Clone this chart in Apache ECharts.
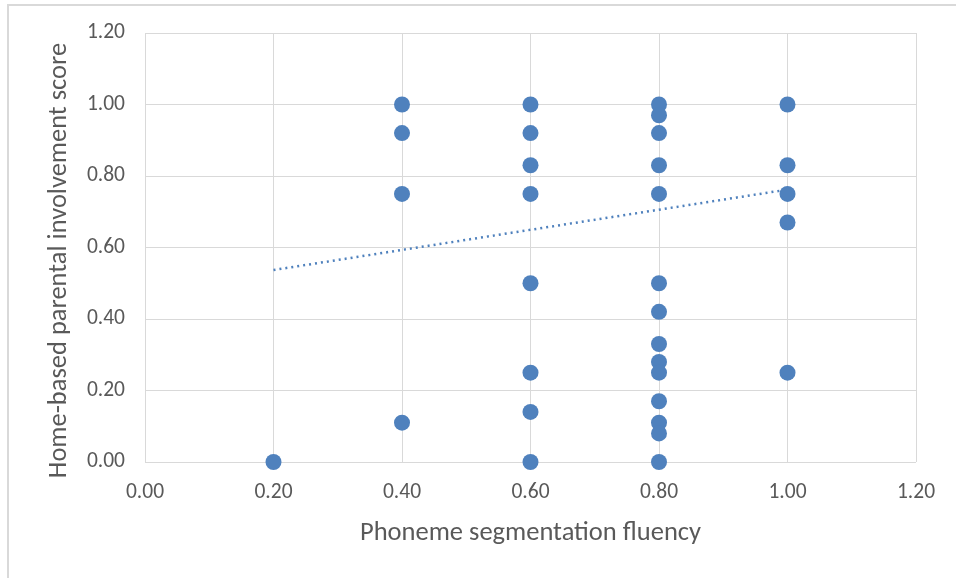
<!DOCTYPE html>
<html><head><meta charset="utf-8">
<script src="https://cdn.jsdelivr.net/npm/echarts@6/dist/echarts.min.js"></script>
<style>html,body{margin:0;padding:0;background:#fff}#frame{position:absolute;left:7px;top:4px;width:960px;height:590px;border-left:2px solid #d9d9d9;border-top:2px solid #d9d9d9;box-sizing:border-box}#c{position:absolute;left:0;top:0;width:956px;height:578px}</style>
</head><body><div id="frame"></div><div id="c"></div>
<script>
const xTitle = 'Phoneme segmentation fluency';
const yTitle = 'Home-based parental involvement score';
const xValues = [0.2, 0.4,0.4,0.4,0.4, 0.6,0.6,0.6,0.6,0.6,0.6,0.6,0.6,
  0.8,0.8,0.8,0.8,0.8,0.8,0.8,0.8,0.8,0.8,0.8,0.8,0.8,0.8, 1.0,1.0,1.0,1.0,1.0];
const yValues = [0.00, 1.00,0.92,0.75,0.11, 1.00,0.92,0.83,0.75,0.50,0.25,0.14,0.00,
  1.00,0.97,0.92,0.83,0.75,0.50,0.42,0.33,0.28,0.25,0.17,0.11,0.08,0.00, 1.00,0.83,0.75,0.67,0.25];
const trendX = [0.2, 1.0];
const trendY = [0.537, 0.762];

const color = '#4f81bd';
const chart = echarts.init(document.getElementById('c'), null, {renderer:'canvas'});
const font = 'Calibri, Carlito, "Open Sans", "Liberation Sans", sans-serif';
chart.setOption({
  animation:false,
  grid:{left:145,right:40,top:33,bottom:116,containLabel:false},
  xAxis:{type:'value',min:0,max:1.2,interval:0.2,
    name:xTitle,nameLocation:'middle',nameGap:58,
    nameTextStyle:{color:'#595959',fontSize:26.5,fontFamily:font},
    axisLine:{show:false},axisTick:{show:false},
    axisLabel:{color:'#595959',fontSize:21.5,fontFamily:font,margin:20,formatter:v=>v.toFixed(2)},
    splitLine:{show:true,lineStyle:{color:'#d9d9d9',width:1}}},
  yAxis:{type:'value',min:0,max:1.2,interval:0.2,
    name:yTitle,nameLocation:'middle',nameGap:72,nameRotate:90,
    nameTextStyle:{color:'#595959',fontSize:26.5,fontFamily:font,padding:[0,26,0,0]},
    axisLine:{show:false},axisTick:{show:false},
    axisLabel:{color:'#595959',fontSize:21.5,fontFamily:font,margin:20,formatter:v=>v.toFixed(2)},
    splitLine:{show:true,lineStyle:{color:'#d9d9d9',width:1}}},
  series:[
    {type:'line',data:trendX.map((x,i)=>[x,trendY[i]]),showSymbol:false,symbol:'none',
     lineStyle:{color:color,width:2.5,type:[2,4]},silent:true,z:1},
    {type:'scatter',data:xValues.map((x,i)=>[x,yValues[i]]),symbol:'circle',symbolSize:16,
     itemStyle:{color:color,opacity:1},z:2}
  ]
});
</script></body></html>
